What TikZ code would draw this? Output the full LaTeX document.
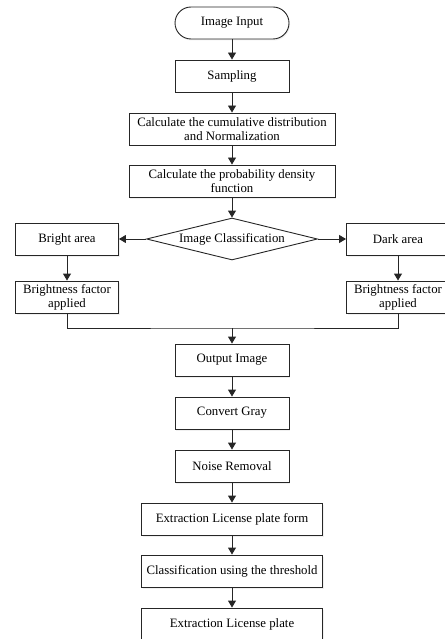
\documentclass[tikz,border=0pt]{standalone}
\usepackage{fontspec}
\setmainfont{Liberation Serif}
\usetikzlibrary{arrows.meta}
\usetikzlibrary{shapes.geometric}
\usetikzlibrary{shadows}

\begin{document}
\begin{tikzpicture}[x = 1pt, y = -1pt,
		box/.style = {draw = black!85, line width = 0.9pt, fill = white, minimum height = 32pt, inner sep = 1pt, align = center, font = \fontsize{12.8}{14}\selectfont, drop shadow = {opacity = 0.12, shadow xshift = 1pt, shadow yshift = -1.5pt}},
		flow/.style = {draw = black!85, line width = 0.9pt, -{Triangle[length = 7pt, width = 8pt]}}]
		\useasboundingbox (0,0) rectangle (444,639);
		\node (in)[box, rounded corners = 16pt, minimum width = 114pt] at (232,23) {Image Input};
		\node (smp)[box, minimum width = 114pt] at (232,76) {Sampling};
		\node (cdf)[box, minimum width = 206pt] at (232,129) {Calculate the cumulative distribution\\and Normalization};
		\node (pdf)[box, minimum width = 206pt] at (232,181) {Calculate the probability density\\function};
		\node (cls)[draw = black!85, line width = 0.9pt, diamond, aspect = 4, inner sep = 0pt, minimum width = 171pt, minimum height = 42pt, font = \fontsize{12.8}{14}\selectfont] at (232,239) {Image Classification};
		%
		\node (brt)[box, minimum width = 103pt] at (67,239) {Bright area};
		\node (drk)[box, minimum width = 103pt] at (398,239) {Dark area};
		\node (fL)[box, minimum width = 103pt] at (67,297) {Brightness factor\\applied};
		\node (fR)[box, minimum width = 103pt] at (398,297) {Brightness factor\\applied};
		\coordinate (j) at (232,328);
		%
		\node (out)[box, minimum width = 114pt] at (232,360) {Output Image};
		\node (gray)[box, minimum width = 114pt] at (232,413) {Convert Gray};
		\node (noise)[box, minimum width = 114pt] at (232,466) {Noise Removal};
		\node (form)[box, minimum width = 181pt] at (232,519) {Extraction License plate form};
		\node (thr)[box, minimum width = 181pt] at (232,571) {Classification using the threshold};
		\node (plate)[box, minimum width = 181pt] at (232,624) {Extraction License plate};
		%
		\draw [flow] (in) -- (smp);
		\draw [flow] (smp) -- (cdf);
		\draw [flow] (cdf) -- (pdf);
		\draw [flow] (pdf) -- (cls);
		\draw [flow] (cls) -- (brt);
		\draw [flow] (cls) -- (drk);
		\draw [flow] (brt) -- (fL);
		\draw [flow] (drk) -- (fR);
		\draw [draw = black!85, line width = 0.9pt] (fL.south) |- (j) -| (fR.south);
		\draw [flow] (j) -- (out);
		\draw [flow] (out) -- (gray);
		\draw [flow] (gray) -- (noise);
		\draw [flow] (noise) -- (form);
		\draw [flow] (form) -- (thr);
		\draw [flow] (thr) -- (plate);
	\end{tikzpicture}
\end{document}
